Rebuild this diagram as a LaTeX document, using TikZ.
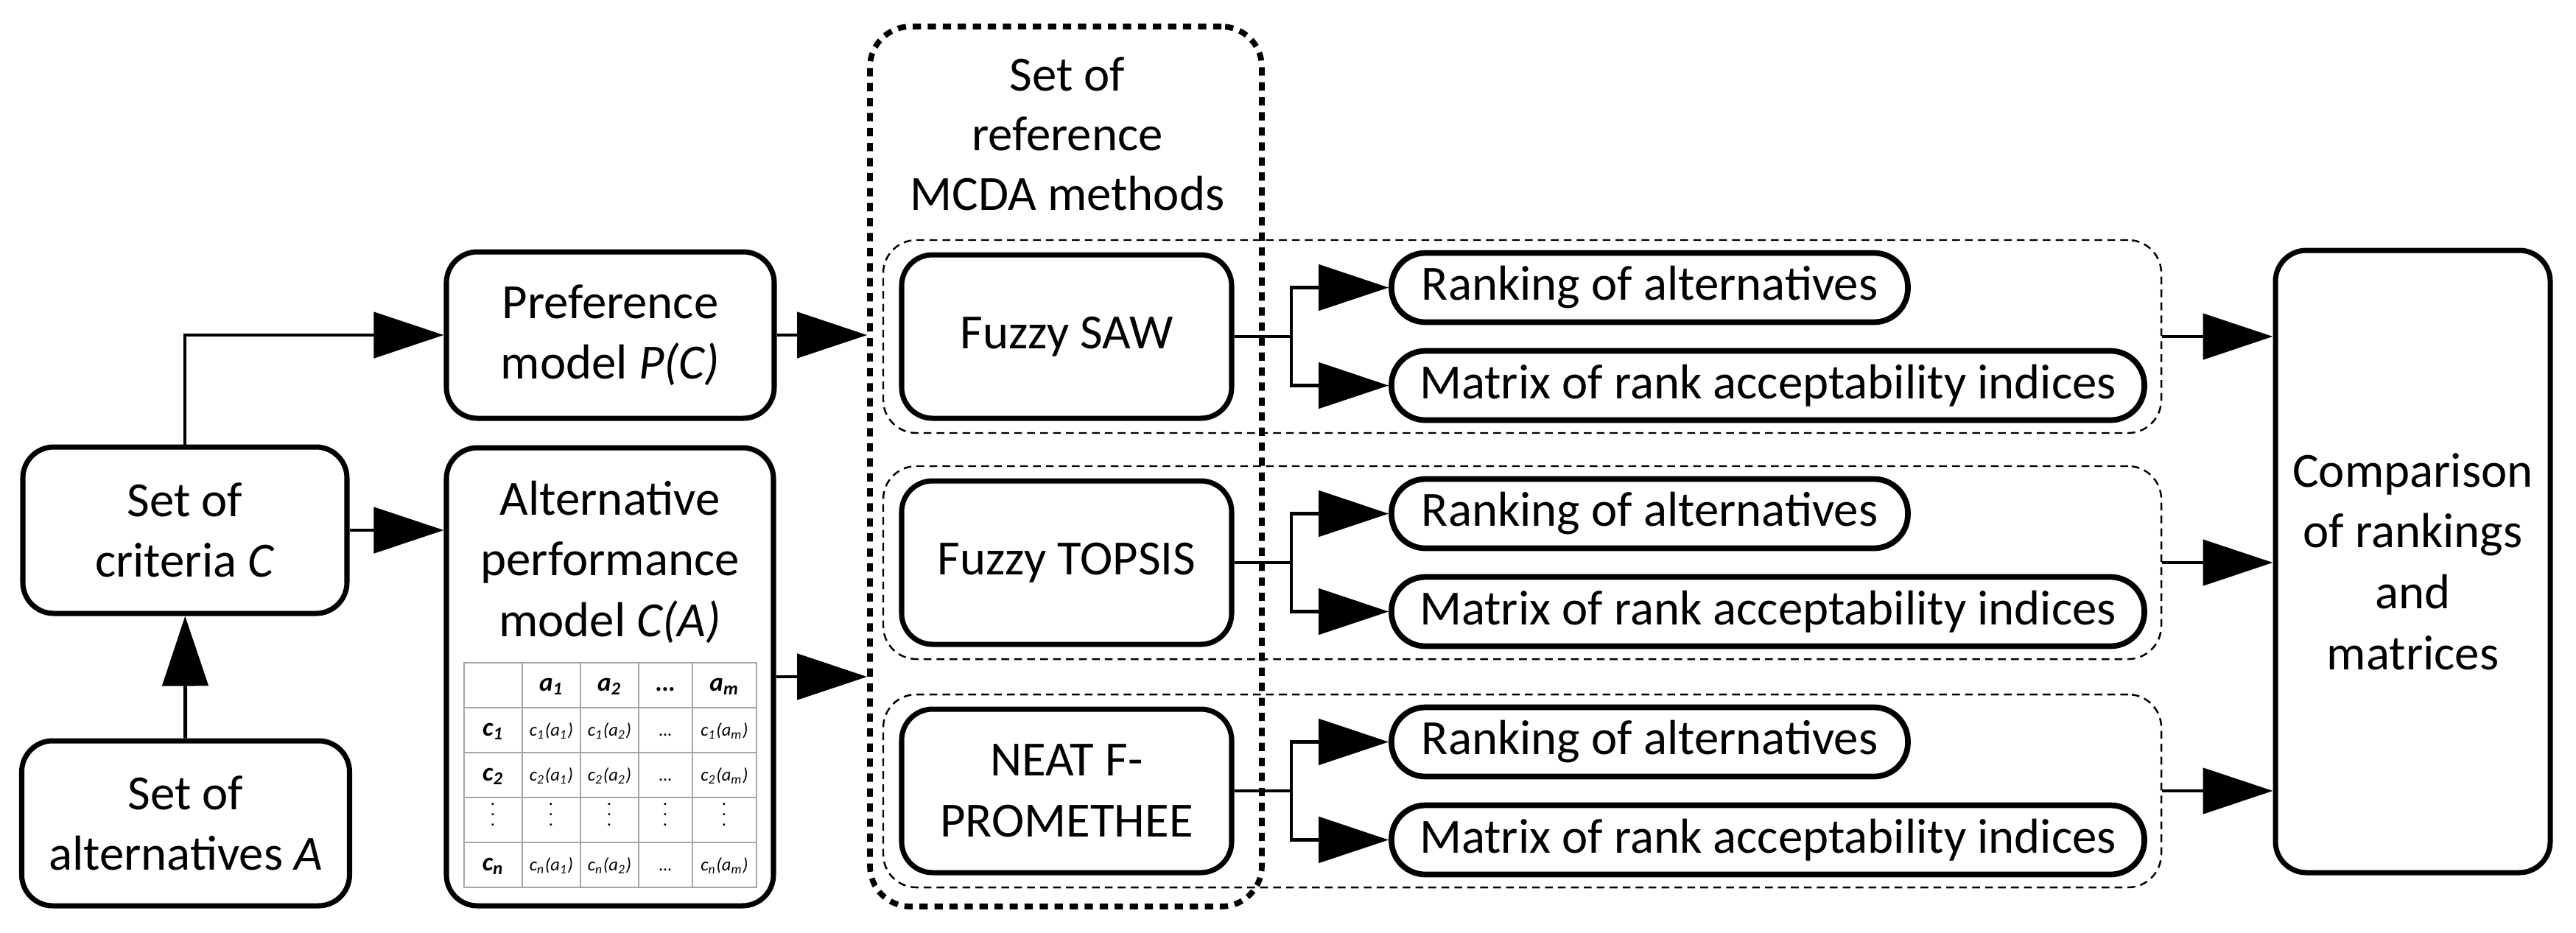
\documentclass[tikz,border=0pt]{standalone}
\usepackage{fontspec}
\setmainfont{Carlito}
\usepackage{tikz}
\usetikzlibrary{arrows.meta,matrix}

\tikzset{
  box/.style={draw, line width=2pt, rounded corners=0.42cm, align=center, font=\fontsize{19}{23.5}\selectfont},
  pill/.style={draw, line width=2.2pt, rounded corners=0.46cm, minimum height=0.94cm, inner sep=1pt, font=\fontsize{19}{23.5}\selectfont},
  grp/.style={draw, line width=0.7pt, dash pattern=on 3pt off 2pt, rounded corners=0.45cm, minimum width=17.35cm, minimum height=2.62cm},
  mcdabox/.style={draw, line width=2.2pt, dash pattern=on 3.2pt off 2.6pt, rounded corners=0.55cm},
  conn/.style={line width=1.4pt, -{Triangle[length=0.95cm,width=0.62cm]}},
  hd/.style={font=\fontsize{10}{12}\selectfont\bfseries\itshape}
}

\begin{document}
\begin{tikzpicture}
        \useasboundingbox (0,0) rectangle (34.97,-12.66);
        % inputs
        \node[box, minimum width=4.45cm, minimum height=2.24cm] (alts) at (2.52,-11.18) {Set of\\alternatives \textit{A}};
        \node[box, minimum width=4.40cm, minimum height=2.26cm] (crit) at (2.51,-7.20) {Set of\\criteria \textit{C}};
        \node[box, minimum width=4.45cm, minimum height=2.26cm] (pref) at (8.285,-4.55) {Preference\\model \textit{P(C)}};
        \node[box, minimum width=4.44cm, minimum height=6.22cm] (perf) at (8.28,-9.19) {};
        \node[align=center, font=\fontsize{19}{23.5}\selectfont] (perflbl) at (8.28,-7.63) {Alternative\\performance\\model \textit{C(A)}};
        \matrix (tbl) at (8.285,-10.525) [matrix of nodes, nodes in empty cells,
            nodes={draw=gray!70, line width=0.5pt, minimum height=0.61cm, text height=0.22cm, text depth=0.06cm, inner sep=0pt, font=\fontsize{7}{8}\selectfont\itshape},
            column sep=-0.5pt, row sep=-0.5pt,
            column 1/.style={nodes={minimum width=0.79cm}},
            column 2/.style={nodes={minimum width=0.79cm}},
            column 3/.style={nodes={minimum width=0.79cm}},
            column 4/.style={nodes={minimum width=0.73cm}},
            column 5/.style={nodes={minimum width=0.87cm}}] {
          & |[hd]| a\textsubscript{1} & |[hd]| a\textsubscript{2} & |[hd]| \dots & |[hd]| a\textsubscript{m} \\
          |[hd]| c\textsubscript{1} & c\textsubscript{1}(a\textsubscript{1}) & c\textsubscript{1}(a\textsubscript{2}) & \dots & c\textsubscript{1}(a\textsubscript{m}) \\
          |[hd]| c\textsubscript{2} & c\textsubscript{2}(a\textsubscript{1}) & c\textsubscript{2}(a\textsubscript{2}) & \dots & c\textsubscript{2}(a\textsubscript{m}) \\
          \smash{$\vdots$} & \smash{$\vdots$} & \smash{$\vdots$} & \smash{$\vdots$} & \smash{$\vdots$} \\
          |[hd]| c\textsubscript{n} & c\textsubscript{n}(a\textsubscript{1}) & c\textsubscript{n}(a\textsubscript{2}) & \dots & c\textsubscript{n}(a\textsubscript{m}) \\
        };

        % reference methods
        \node[grp] (g1) at (20.665,-4.57) {};
        \node[grp] (g2) at (20.665,-7.64) {};
        \node[grp] (g3) at (20.665,-10.74) {};
        \node[mcdabox, minimum width=5.32cm, minimum height=11.95cm] (mcda) at (14.47,-6.335) {};
        \node[align=center, font=\fontsize{19}{23}\selectfont] (ttl) at (14.49,-1.82) {Set of\\reference\\MCDA methods};
        \node[box, minimum width=4.48cm, minimum height=2.22cm] (fsaw) at (14.48,-4.57) {Fuzzy SAW};
        \node[box, minimum width=4.48cm, minimum height=2.22cm] (ftop) at (14.48,-7.64) {Fuzzy TOPSIS};
        \node[box, minimum width=4.48cm, minimum height=2.22cm] (neat) at (14.48,-10.74) {NEAT F-\\PROMETHEE};
        \coordinate (br) at (17.53,0);

        % outputs
        \node[pill, minimum width=7.01cm] (r1) at (22.395,-3.905) {Ranking of alternatives};
        \node[pill, minimum width=10.22cm] (m1) at (24.00,-5.235) {Matrix of rank acceptability indices};
        \node[pill, minimum width=7.01cm] (r2) at (22.395,-6.975) {Ranking of alternatives};
        \node[pill, minimum width=10.22cm] (m2) at (24.00,-8.305) {Matrix of rank acceptability indices};
        \node[pill, minimum width=7.01cm] (r3) at (22.395,-10.075) {Ranking of alternatives};
        \node[pill, minimum width=10.22cm] (m3) at (24.00,-11.405) {Matrix of rank acceptability indices};
        \node[box, minimum width=3.73cm, minimum height=8.45cm] (cmp) at (32.755,-7.625) {Comparison\\of rankings\\and\\matrices};

        % connectors
        \draw[conn] (alts) -- (crit);
        \draw[conn] (crit.north) |- (pref.west);
        \draw[conn] (crit.east) -- (crit.east -| perf.west);
        \draw[conn] (pref.east) -- (pref.east -| mcda.west);
        \draw[conn] (perf.east) -- (perf.east -| mcda.west);
        \draw[conn] (fsaw.east) -- (fsaw.east -| br) |- (r1.west);
        \draw[conn] (fsaw.east -| br) |- (m1.west);
        \draw[conn] (ftop.east) -- (ftop.east -| br) |- (r2.west);
        \draw[conn] (ftop.east -| br) |- (m2.west);
        \draw[conn] (neat.east) -- (neat.east -| br) |- (r3.west);
        \draw[conn] (neat.east -| br) |- (m3.west);
        \draw[conn] (g1.east) -- (g1.east -| cmp.west);
        \draw[conn] (g2.east) -- (g2.east -| cmp.west);
        \draw[conn] (g3.east) -- (g3.east -| cmp.west);
      \end{tikzpicture}
\end{document}
